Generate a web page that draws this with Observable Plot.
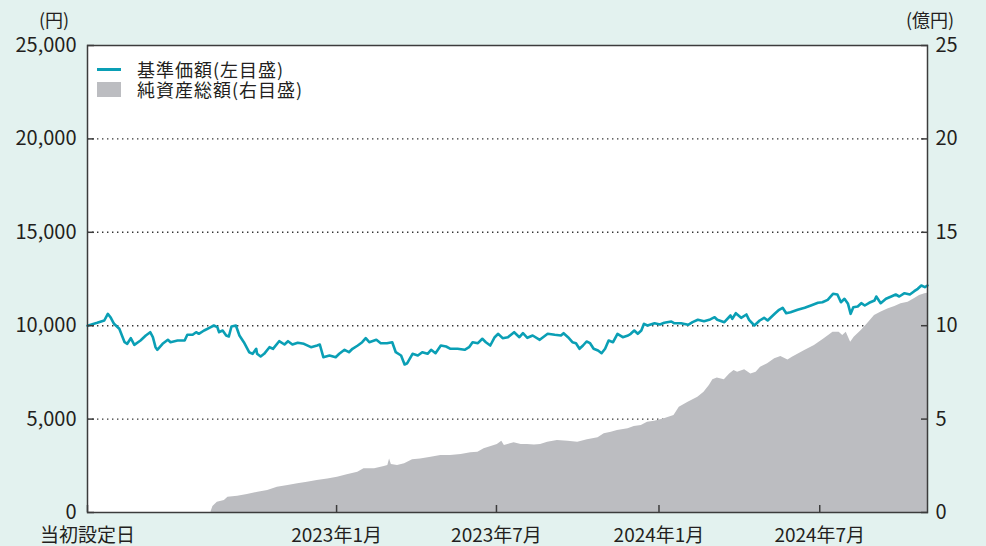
<!DOCTYPE html>
<html lang="ja">
<head>
<meta charset="utf-8">
<script src="https://cdn.jsdelivr.net/npm/d3@7"></script>
<script src="https://cdn.jsdelivr.net/npm/@observablehq/plot@0.6"></script>
<style>
  html, body { margin: 0; padding: 0; background: #e3f2ef; }
  #wrap { position: relative; width: 986px; height: 546px; overflow: hidden;
          font-family: "Noto Sans CJK JP", "Noto Sans", sans-serif; color: #231f20; }
  .unit { position: absolute; top: 9px; height: 20px; font-size: 18px; line-height: 20px; white-space: nowrap; }
  #legend { position: absolute; left: 97px; top: 59px; font-size: 18px; line-height: 20px; }
  #legend .row { display: flex; align-items: center; height: 20px; white-space: nowrap; }
  #legend .row span { display: block; height: 20px; line-height: 20px; letter-spacing: 1px; }
  #legend .sw { width: 24px; margin-right: 16px; }
  #legend .ln { height: 3px; background: #0a9fb5; }
  #legend .bx { height: 15px; background: #bcbdc1; }
</style>
</head>
<body>
<div id="wrap">
  <div class="unit" style="left:39px;">(円)</div>
  <div class="unit" style="left:906px;">(億円)</div>
  <div id="legend">
    <div class="row"><div class="sw ln"></div><span>基準価額(左目盛)</span></div>
    <div class="row"><div class="sw bx"></div><span>純資産総額(右目盛)</span></div>
  </div>
</div>
<script>
// 基準価額 (円)
const priceDates = [
"2022-03-25","2022-04-05","2022-04-13","2022-04-17","2022-04-20","2022-04-24","2022-04-30","2022-05-06","2022-05-09","2022-05-13",
"2022-05-17","2022-05-24","2022-05-30","2022-06-04","2022-06-07","2022-06-10","2022-06-12","2022-06-18","2022-06-24","2022-06-27",
"2022-07-05","2022-07-13","2022-07-16","2022-07-22","2022-07-26","2022-07-29","2022-08-04","2022-08-10","2022-08-15","2022-08-19",
"2022-08-21","2022-08-25","2022-08-29","2022-09-01","2022-09-04","2022-09-09","2022-09-13","2022-09-18","2022-09-24","2022-09-28",
"2022-10-02","2022-10-03","2022-10-07","2022-10-11","2022-10-17","2022-10-21","2022-10-28","2022-11-03","2022-11-07","2022-11-12",
"2022-11-18","2022-11-25","2022-12-03","2022-12-10","2022-12-13","2022-12-17","2022-12-24","2022-12-31","2023-01-04","2023-01-10",
"2023-01-15","2023-01-19","2023-01-25","2023-01-30","2023-02-03","2023-02-07","2023-02-15","2023-02-20","2023-02-27","2023-03-05",
"2023-03-09","2023-03-15","2023-03-19","2023-03-22","2023-03-28","2023-04-03","2023-04-08","2023-04-14","2023-04-18","2023-04-23",
"2023-04-29","2023-05-05","2023-05-10","2023-05-18","2023-05-26","2023-05-31","2023-06-04","2023-06-10","2023-06-15","2023-06-19",
"2023-06-24","2023-06-29","2023-07-03","2023-07-08","2023-07-14","2023-07-21","2023-07-27","2023-07-31","2023-08-05","2023-08-11",
"2023-08-19","2023-08-28","2023-09-05","2023-09-12","2023-09-15","2023-09-20","2023-09-25","2023-09-29","2023-10-03","2023-10-07",
"2023-10-11","2023-10-15","2023-10-19","2023-10-24","2023-10-28","2023-11-01","2023-11-05","2023-11-10","2023-11-15","2023-11-21",
"2023-11-27","2023-11-30","2023-12-04","2023-12-08","2023-12-12","2023-12-15","2023-12-19","2023-12-27","2024-01-02","2024-01-07",
"2024-01-15","2024-01-18","2024-01-26","2024-02-03","2024-02-08","2024-02-14","2024-02-21","2024-02-27","2024-03-04","2024-03-07",
"2024-03-15","2024-03-22","2024-03-24","2024-03-28","2024-04-03","2024-04-09","2024-04-12","2024-04-18","2024-04-24","2024-04-29",
"2024-05-03","2024-05-11","2024-05-16","2024-05-20","2024-05-24","2024-05-29","2024-06-06","2024-06-14","2024-06-21","2024-06-29",
"2024-07-04","2024-07-10","2024-07-16","2024-07-21","2024-07-25","2024-07-29","2024-08-02","2024-08-05","2024-08-08","2024-08-13",
"2024-08-17","2024-08-21","2024-08-26","2024-09-01","2024-09-03","2024-09-08","2024-09-14","2024-09-20","2024-09-25","2024-09-29",
"2024-10-05","2024-10-11","2024-10-16","2024-10-20","2024-10-24","2024-10-28","2024-10-31"
];
const priceValues = [
10000,10155,10278,10637,10455,10101,9834,9117,9031,9331,
8977,9208,9475,9652,9384,8849,8710,9031,9245,9117,
9208,9208,9513,9513,9652,9566,9743,9887,10011,9920,
9652,9743,9475,9422,9957,10011,9475,9117,8581,8495,
8763,8495,8351,8495,8849,8763,9170,8993,9170,8993,
9084,9031,8849,8940,8993,8314,8405,8314,8495,8710,
8581,8763,8940,9117,9331,9117,9245,9063,9063,9117,
8581,8405,7923,7992,8495,8405,8581,8495,8710,8528,
8940,8886,8763,8763,8710,8849,9117,9063,9299,9117,
8940,9384,9566,9331,9384,9652,9384,9598,9352,9475,
9245,9566,9513,9475,9598,9384,9117,9063,8763,8940,
9154,9063,8763,8672,8528,8763,9208,9117,9566,9384,
9475,9566,9743,9566,9743,10101,10011,10134,10064,10155,
10225,10134,10134,10048,10188,10316,10241,10316,10455,10316,
10188,10546,10369,10669,10423,10600,10316,10011,10278,10423,
10278,10637,10851,10958,10669,10723,10851,10958,11081,11226,
11258,11386,11707,11670,11258,11440,11172,10637,10990,11028,
11204,11081,11226,11349,11563,11204,11440,11563,11670,11563,
11740,11670,11847,11975,12152,12061,12152
];

// 純資産総額 (億円)
const assetDates = [
"2022-08-12","2022-08-14","2022-08-19","2022-08-27","2022-08-31","2022-09-11","2022-09-22","2022-10-04","2022-10-15","2022-10-26",
"2022-11-07","2022-11-18","2022-11-29","2022-12-10","2022-12-22","2023-01-02","2023-01-13","2023-01-25","2023-02-01","2023-02-13",
"2023-02-24","2023-02-28","2023-03-02","2023-03-04","2023-03-11","2023-03-19","2023-03-28","2023-04-06","2023-04-18","2023-04-29",
"2023-05-10","2023-05-22","2023-06-02","2023-06-10","2023-06-17","2023-06-25","2023-07-02","2023-07-07","2023-07-10","2023-07-14",
"2023-07-21","2023-07-29","2023-08-05","2023-08-13","2023-08-20","2023-08-28","2023-09-08","2023-09-20","2023-10-01","2023-10-12",
"2023-10-24","2023-10-31","2023-11-08","2023-11-15","2023-11-27","2023-12-04","2023-12-12","2023-12-19","2023-12-27","2024-01-07",
"2024-01-18","2024-01-24","2024-02-03","2024-02-14","2024-02-21","2024-02-27","2024-03-02","2024-03-07","2024-03-15","2024-03-21",
"2024-03-26","2024-03-30","2024-04-07","2024-04-14","2024-04-20","2024-04-25","2024-05-03","2024-05-11","2024-05-18","2024-05-26",
"2024-05-31","2024-06-14","2024-06-25","2024-07-06","2024-07-16","2024-07-23","2024-07-27","2024-07-31","2024-08-05","2024-08-09",
"2024-08-17","2024-08-24","2024-09-01","2024-09-08","2024-09-16","2024-09-24","2024-10-01","2024-10-09","2024-10-16","2024-10-22",
"2024-10-28","2024-10-31"
];
const assetValues = [
0.05,0.32,0.55,0.64,0.82,0.87,0.96,1.09,1.18,1.35,
1.45,1.54,1.62,1.71,1.80,1.89,2.02,2.16,2.34,2.34,
2.46,2.52,2.87,2.57,2.52,2.61,2.82,2.87,2.96,3.05,
3.05,3.10,3.20,3.23,3.41,3.53,3.64,3.82,3.59,3.64,
3.73,3.64,3.64,3.62,3.64,3.76,3.85,3.82,3.76,3.89,
4.00,4.21,4.30,4.39,4.48,4.60,4.66,4.83,4.89,5.02,
5.19,5.64,5.90,6.17,6.44,6.80,7.10,7.20,7.10,7.42,
7.60,7.51,7.64,7.42,7.51,7.78,7.96,8.23,8.35,8.17,
8.31,8.67,8.94,9.30,9.65,9.65,9.48,9.65,9.12,9.38,
9.74,10.10,10.55,10.72,10.90,11.03,11.17,11.26,11.44,11.62,
11.71,11.74
];

// 軸
const xTickDates = ["2022-03-25","2023-01-01","2023-07-01","2024-01-01","2024-07-01"];
const xTickLabels = ["当初設定日","2023年1月","2023年7月","2024年1月","2024年7月"];
const yTicksLeft = [0, 5000, 10000, 15000, 20000, 25000];   // 円
const yTicksRight = [0, 5, 10, 15, 20, 25];                 // 億円
const xDomain = ["2022-03-25", "2024-10-31"];

const parse = d3.utcParse("%Y-%m-%d");
const price = priceDates.map((d, i) => ({date: parse(d), value: priceValues[i]}));
// right axis (億円) mapped onto the left scale: 25億円 ↔ 25,000円
const ratio = yTicksLeft[yTicksLeft.length - 1] / yTicksRight[yTicksRight.length - 1];
const assets = assetDates.map((d, i) => ({date: parse(d), value: assetValues[i] * ratio}));
const xt = xTickDates.map(parse);

const chart = Plot.plot({
  width: 986,
  height: 546,
  marginTop: 45,
  marginRight: 59,
  marginBottom: 34,
  marginLeft: 87,
  style: {background: "transparent", fontFamily: '"Noto Sans CJK JP", "Noto Sans", sans-serif', fontSize: "19px", color: "#231f20"},
  x: {type: "utc", domain: xDomain.map(parse)},
  y: {domain: [yTicksLeft[0], yTicksLeft[yTicksLeft.length - 1]]},
  marks: [
    Plot.frame({fill: "white", stroke: null}),
    Plot.gridY(yTicksLeft.slice(1, -1), {stroke: "#333", strokeOpacity: 1, strokeWidth: 1.4, strokeDasharray: "1.4,3.6"}),
    Plot.areaY(assets, {x: "date", y: "value", fill: "#bcbdc1", curve: "linear"}),
    Plot.lineY(price, {x: "date", y: "value", stroke: "#0a9fb5", strokeWidth: 2.6, curve: "linear"}),
    Plot.frame({stroke: "#3c3c3c", strokeWidth: 1.5}),
    Plot.axisY(yTicksLeft, {anchor: "left", tickSize: -7, tickPadding: 18, tickFormat: d3.format(","), fontSize: 20, label: null, stroke: "#3c3c3c", strokeWidth: 1.5}),
    Plot.axisY(yTicksLeft, {anchor: "right", tickSize: -7, tickPadding: 15, tickFormat: d => String(d / ratio), fontSize: 20, label: null, stroke: "#3c3c3c", strokeWidth: 1.5}),
    Plot.axisX(xt, {anchor: "bottom", tickSize: -7, tickPadding: 23, tickFormat: (d, i) => xTickLabels[i], fontSize: 19, label: null, stroke: "#3c3c3c", strokeWidth: 1.5})
  ]
});
chart.style.position = "absolute";
chart.style.left = "0";
chart.style.top = "0";
document.getElementById("wrap").prepend(chart);
</script>
</body>
</html>
